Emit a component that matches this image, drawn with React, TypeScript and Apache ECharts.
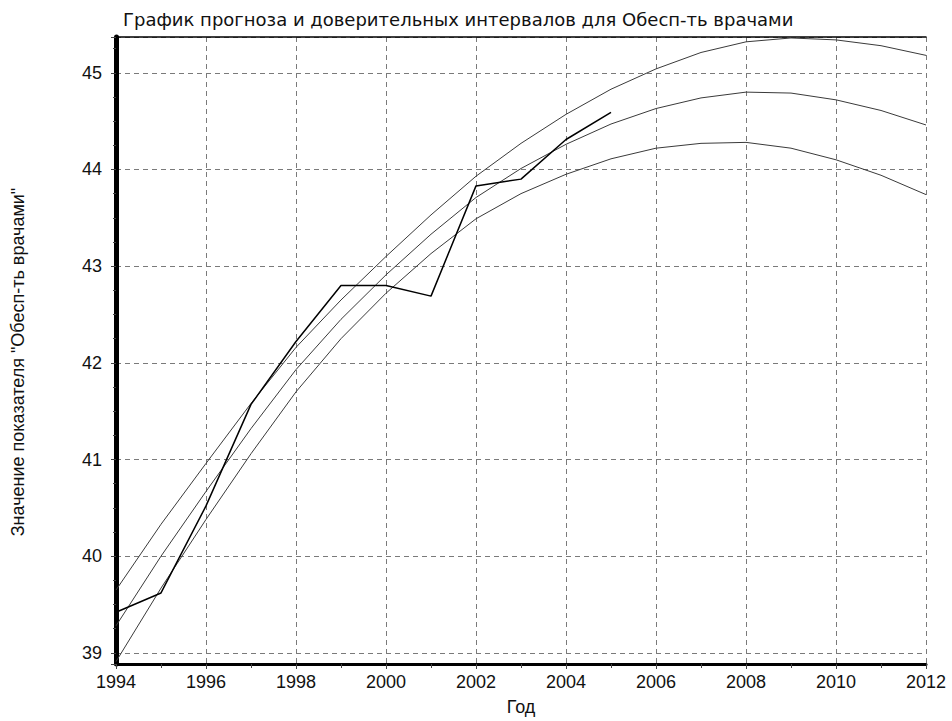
import React, { useEffect, useRef } from "react";
import * as echarts from "echarts";

const years: number[] = [1994, 1995, 1996, 1997, 1998, 1999, 2000, 2001, 2002, 2003, 2004, 2005, 2006, 2007, 2008, 2009, 2010, 2011, 2012];
const forecast: number[] = [39.28, 40.0, 40.67, 41.32, 41.93, 42.45, 42.91, 43.33, 43.71, 44.01, 44.26, 44.47, 44.63, 44.74, 44.80, 44.79, 44.72, 44.61, 44.46];
const upperBound: number[] = [39.65, 40.33, 40.96, 41.58, 42.16, 42.65, 43.10, 43.53, 43.93, 44.27, 44.57, 44.83, 45.04, 45.21, 45.32, 45.36, 45.34, 45.28, 45.18];
const lowerBound: number[] = [38.91, 39.67, 40.38, 41.06, 41.70, 42.25, 42.72, 43.13, 43.49, 43.75, 43.95, 44.11, 44.22, 44.27, 44.28, 44.22, 44.10, 43.94, 43.74];
const actualYears: number[] = [1994, 1995, 1996, 1997, 1998, 1999, 2000, 2001, 2002, 2003, 2004, 2005];
const actual: number[] = [39.42, 39.62, 40.52, 41.57, 42.22, 42.80, 42.80, 42.69, 43.83, 43.90, 44.31, 44.59];

const titleText = "График прогноза и доверительных интервалов для Обесп-ть врачами";
const yName = "Значение показателя \"Обесп-ть врачами\"";
const xName = "Год";

const NARROW = "'Liberation Sans Narrow', 'Arial Narrow', 'Liberation Sans', sans-serif";
const WIDE = "'DejaVu Sans', Verdana, sans-serif";

export default function App() {
  const ref = useRef<HTMLDivElement>(null);
  useEffect(() => {
    if (!ref.current) return;
    const chart = echarts.init(ref.current, undefined, { renderer: "svg" });
    const pair = (xs: number[], ys: number[]) => xs.map((x, i) => [x, ys[i]]);
    const curveStyle = { color: "#3a3a3a", width: 1 };
    chart.setOption({
      animation: false,
      backgroundColor: "#ffffff",
      grid: { left: 116, right: 26, top: 37, bottom: 54, containLabel: false },
      graphic: [
        {
          type: "text",
          left: 123,
          top: 10,
          style: { text: titleText, fontSize: 18, fontFamily: WIDE, fill: "#111" },
        },
        {
          type: "text",
          x: 18,
          y: 362,
          rotation: Math.PI / 2,
          style: { text: yName, fontSize: 18, fontFamily: NARROW, fill: "#111", align: "center", verticalAlign: "middle" },
        },
      ],
      xAxis: [
        {
          type: "value",
          min: 1994,
          max: 2012,
          interval: 2,
          name: xName,
          nameLocation: "middle",
          nameGap: 34,
          nameTextStyle: { fontSize: 18, fontFamily: NARROW, color: "#111" },
          axisLine: { show: true, onZero: false, lineStyle: { color: "#000", width: 3 } },
          axisTick: { show: true, length: 5, lineStyle: { color: "#444" } },
          minorTick: { show: true, splitNumber: 2, length: 4, lineStyle: { color: "#444" } },
          axisLabel: { fontSize: 18, fontFamily: NARROW, color: "#111", margin: 9, formatter: (v: number) => String(v) },
          splitLine: { show: true, lineStyle: { color: "#7a7a7a", width: 1, type: [5, 4] } },
        },
        {
          type: "value",
          position: "top",
          min: 1994,
          max: 2012,
          interval: 2,
          axisLine: { show: true, onZero: false, lineStyle: { color: "#000", width: 1.5 } },
          axisTick: { show: false },
          axisLabel: { show: false },
          splitLine: { show: false },
        },
      ],
      yAxis: {
        type: "value",
        min: 38.885,
        max: 45.37,
        splitNumber: 6,
        axisLine: { show: true, onZero: false, lineStyle: { color: "#000", width: 5 } },
        axisTick: { show: true, length: 5, lineStyle: { color: "#444" } },
        minorTick: { show: true, splitNumber: 4, length: 3, lineStyle: { color: "#444" } },
        axisLabel: {
          fontSize: 18,
          fontFamily: NARROW,
          color: "#111",
          margin: 14,
          showMinLabel: false,
          showMaxLabel: false,
          formatter: (v: number) => (Math.abs(v - Math.round(v)) < 1e-6 ? String(Math.round(v)) : ""),
        },
        splitLine: { show: true, lineStyle: { color: "#7a7a7a", width: 1, type: [5, 4] } },
      },
      series: [
        { name: "upper", type: "line", data: pair(years, upperBound), showSymbol: false, lineStyle: curveStyle, z: 2 },
        { name: "forecast", type: "line", data: pair(years, forecast), showSymbol: false, lineStyle: curveStyle, z: 2 },
        { name: "lower", type: "line", data: pair(years, lowerBound), showSymbol: false, lineStyle: curveStyle, z: 2 },
        { name: "actual", type: "line", data: pair(actualYears, actual), showSymbol: false, lineStyle: { color: "#000", width: 1.5 }, z: 3 },
      ],
    });
    return () => chart.dispose();
  }, []);
  return (
    <div
      ref={ref}
      style={{ position: "fixed", left: 0, top: 0, width: 952, height: 721, background: "#fff" }}
    />
  );
}
